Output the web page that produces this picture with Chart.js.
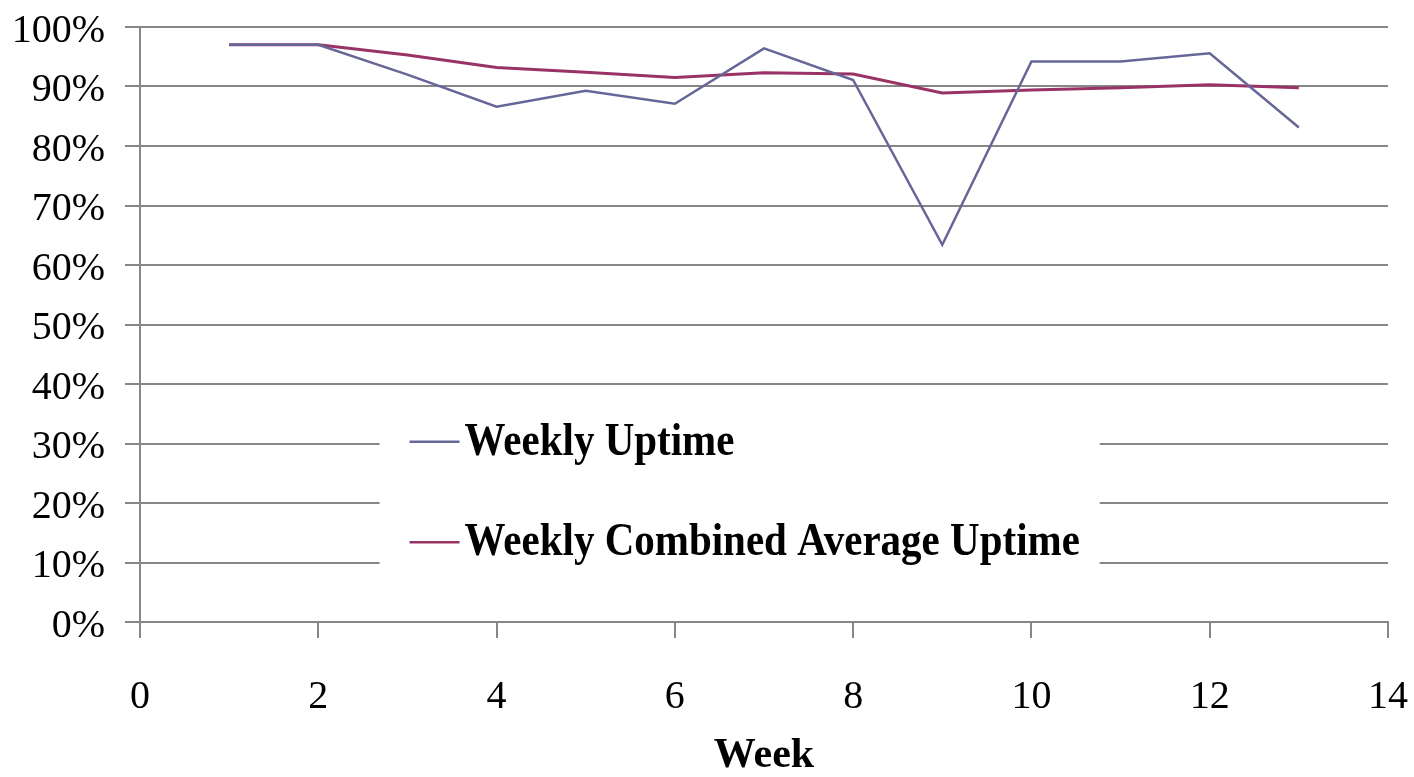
<!DOCTYPE html>
<html>
<head>
<meta charset="utf-8">
<script src="https://cdn.jsdelivr.net/npm/chart.js@4/dist/chart.umd.min.js"></script>
<style>
  html, body { margin: 0; padding: 0; background: #ffffff; }
  #wrap { width: 1414px; height: 777px; position: relative; }
</style>
</head>
<body>
<div id="wrap"><canvas id="chart" width="1414" height="777"></canvas></div>
<script>
// Week numbers and uptime percentages
const weeks = [1, 2, 3, 4, 5, 6, 7, 8, 9, 10, 11, 12, 13];
const weeklyUptime = [97.0, 97.0, 92.0, 86.6, 89.3, 87.1, 96.4, 91.1, 63.4, 94.2, 94.2, 95.6, 83.1];
const combinedAverageUptime = [97.0, 97.0, 95.3, 93.2, 92.4, 91.5, 92.3, 92.1, 88.9, 89.4, 89.8, 90.3, 89.8];
const seriesLabels = ['Weekly Uptime', 'Weekly Combined Average Uptime'];
const xTickValues = [0, 2, 4, 6, 8, 10, 12, 14];
const yTickValues = [0, 10, 20, 30, 40, 50, 60, 70, 80, 90, 100];

const SERIF = "'Liberation Serif', 'Times New Roman', serif";
const GRID = '#878787';

const toPoints = (ys) => weeks.map((w, i) => ({ x: w, y: ys[i] }));

// Legend drawn inside the plot area on a white panel
const insideLegend = {
  id: 'insideLegend',
  beforeDatasetsDraw(chart) {
    const { ctx, chartArea: a } = chart;
    const w = a.right - a.left, h = a.bottom - a.top;
    const x0 = a.left + w * 0.192, x1 = a.left + w * 0.769;
    const y0 = a.top + h * 0.655, y1 = a.top + h * 0.945;
    ctx.save();
    ctx.fillStyle = '#ffffff';
    ctx.fillRect(x0, y0, x1 - x0, y1 - y0);
    const rows = [a.top + h * 0.697, a.top + h * 0.866];
    chart.data.datasets.forEach((ds, i) => {
      const y = rows[i];
      const lx = a.left + w * 0.216;
      ctx.strokeStyle = ds.borderColor;
      ctx.lineWidth = 2.5;
      ctx.beginPath();
      ctx.moveTo(lx, y);
      ctx.lineTo(lx + 50, y);
      ctx.stroke();
      // slightly tall bold lettering
      ctx.save();
      ctx.translate(lx + 55, y + 1);
      ctx.scale(1, 1.12);
      ctx.font = "bold 41px " + SERIF;
      ctx.textBaseline = 'middle';
      ctx.textAlign = 'left';
      ctx.fillStyle = '#000000';
      ctx.fillText(ds.label, 0, 0);
      ctx.restore();
    });
    ctx.restore();
  }
};

new Chart(document.getElementById('chart'), {
  type: 'line',
  data: {
    datasets: [
      {
        label: seriesLabels[0],
        data: toPoints(weeklyUptime),
        borderColor: '#666699',
        borderWidth: 2.5,
        pointRadius: 0,
        tension: 0,
        fill: false
      },
      {
        label: seriesLabels[1],
        data: toPoints(combinedAverageUptime),
        borderColor: '#993366',
        borderWidth: 3,
        pointRadius: 0,
        tension: 0,
        fill: false
      }
    ]
  },
  options: {
    responsive: false,
    animation: false,
    layout: { padding: { left: 0, right: 26, top: 27, bottom: 0 } },
    plugins: {
      legend: { display: false },
      tooltip: { enabled: false }
    },
    scales: {
      x: {
        type: 'linear',
        min: 0,
        max: 14,
        afterBuildTicks(scale) { scale.ticks = xTickValues.map(v => ({ value: v })); },
        afterFit(scale) {
          scale.height = 155;
          scale.paddingLeft = 0;
          scale.paddingRight = 0;
        },
        grid: {
          drawOnChartArea: false,
          drawTicks: true,
          tickLength: 16,
          color: GRID,
          lineWidth: 2
        },
        border: { display: true, color: GRID, width: 2 },
        ticks: {
          color: '#000000',
          font: { family: SERIF, size: 40 },
          padding: 35,
          maxRotation: 0
        },
        title: {
          display: true,
          text: 'Week',
          color: '#000000',
          font: { family: SERIF, size: 42, weight: 'bold', lineHeight: 1.0 },
          padding: { top: 8, bottom: 0 }
        }
      },
      y: {
        min: 0,
        max: 100,
        afterBuildTicks(scale) { scale.ticks = yTickValues.map(v => ({ value: v })); },
        afterFit(scale) {
          scale.width = 140;
          scale.paddingTop = 0;
          scale.paddingBottom = 0;
        },
        grid: {
          drawOnChartArea: true,
          drawTicks: true,
          tickLength: 15,
          color: GRID,
          lineWidth: 2
        },
        border: { display: true, color: GRID, width: 2 },
        ticks: {
          color: '#000000',
          font: { family: SERIF, size: 40 },
          padding: 20,
          labelOffset: 4,
          callback: (v) => v + '%'
        }
      }
    }
  },
  plugins: [insideLegend]
});
</script>
</body>
</html>
